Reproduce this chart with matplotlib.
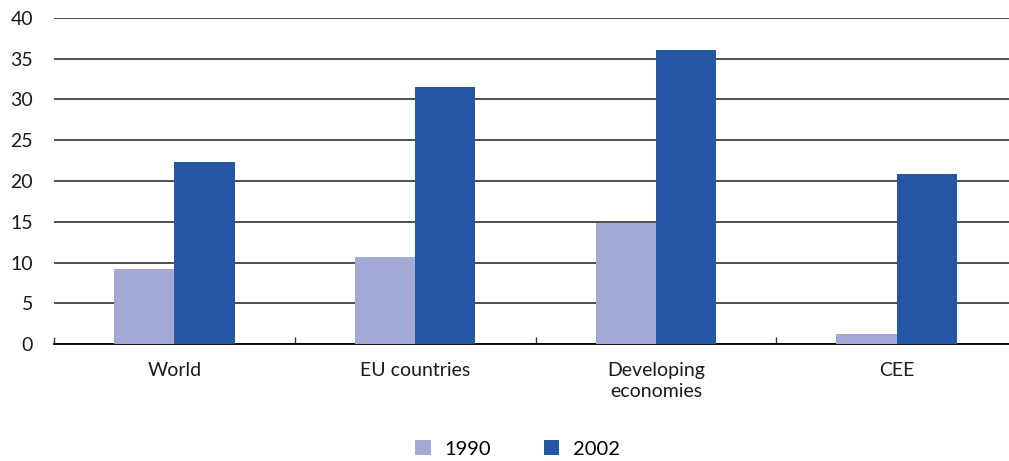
import matplotlib
matplotlib.use('Agg')
import matplotlib.pyplot as plt
import numpy as np

categories = ["World", "EU countries", "Developing\neconomies", "CEE"]
years = ["1990", "2002"]
values_1990 = [9.2, 10.7, 14.9, 1.2]
values_2002 = [22.3, 31.5, 36.1, 20.9]

plt.rcParams['font.family'] = ['Lato', 'DejaVu Sans']

fig = plt.figure(figsize=(10.09, 4.61), dpi=100)
ax = fig.add_axes([54 / 1009, 117 / 461, 963 / 1009, 326 / 461])

x = np.arange(len(categories))
w = 0.25
b1 = ax.bar(x - w / 2, values_1990, w, color="#a3a8d4", label=years[0], zorder=3)
b2 = ax.bar(x + w / 2, values_2002, w, color="#2557a5", label=years[1], zorder=3)

ax.set_xlim(-0.5, len(categories) - 0.5)
ax.set_ylim(0, 40)
ax.set_yticks(range(0, 41, 5))
ax.yaxis.grid(True, color="#404040", lw=1.3)
ax.set_axisbelow(True)

for s in ['top', 'right', 'left']:
    ax.spines[s].set_visible(False)
ax.spines['bottom'].set_color('black')
ax.spines['bottom'].set_linewidth(1.3)

ax.tick_params(axis='y', length=0, pad=15, labelsize=14, colors="#1a1a1a")
ax.set_xticks(x)
ax.set_xticklabels(categories, fontsize=14, color="#1a1a1a", linespacing=1.3)
ax.tick_params(axis='x', which='major', length=0, pad=13)
ax.set_xticks(np.arange(-0.5, len(categories), 1), minor=True)
ax.tick_params(axis='x', which='minor', direction='in', length=5, width=1, color='#333333')

fig.legend(handles=[b1, b2], loc='center', bbox_to_anchor=(0.513, 12 / 461),
           ncol=2, frameon=False, fontsize=14.5, handlelength=0.75, handleheight=0.75,
           columnspacing=2.6, handletextpad=0.7)

plt.savefig("out.png", dpi=100)
plt.close()
